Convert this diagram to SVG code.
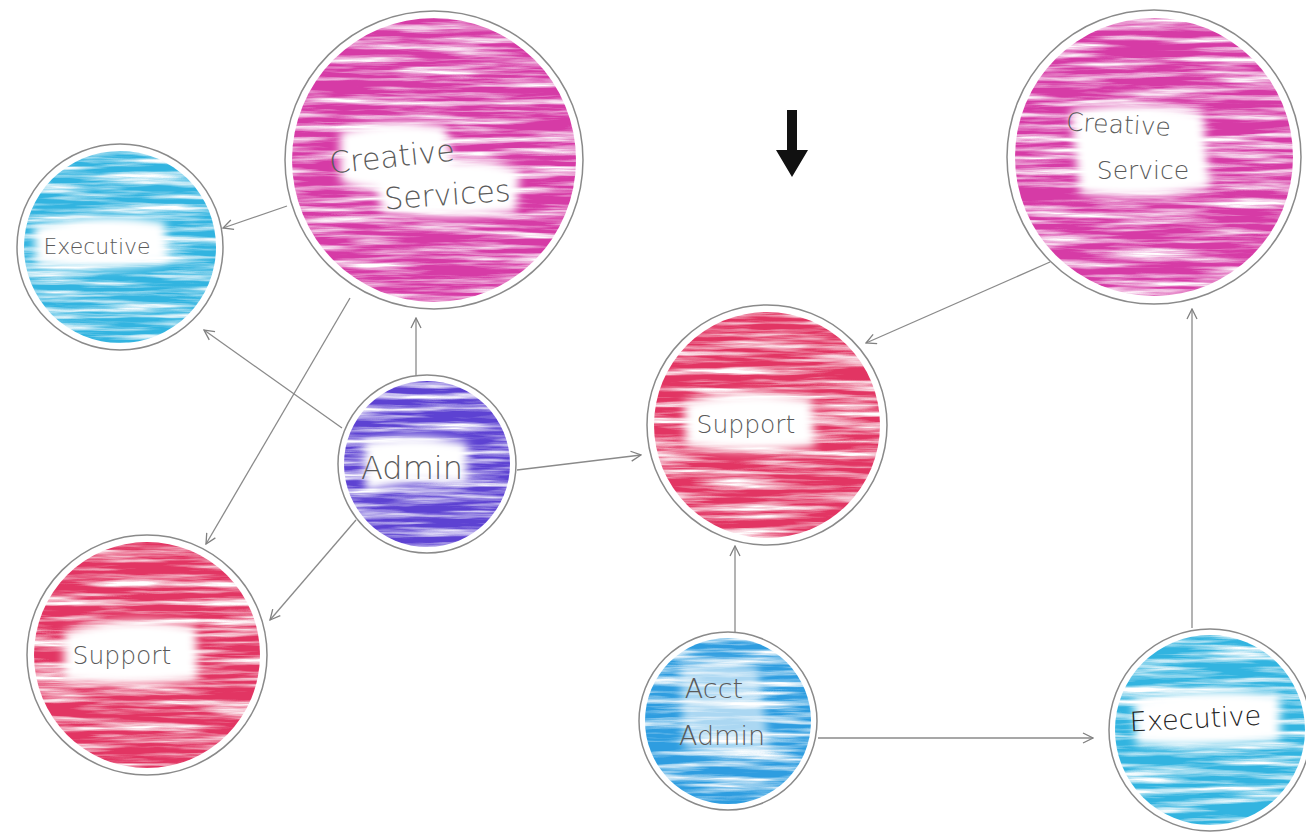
<svg xmlns="http://www.w3.org/2000/svg" width="1306" height="835" viewBox="0 0 1306 835">
<defs>
<filter id="crayon" x="-5%" y="-5%" width="110%" height="110%">
<feTurbulence type="fractalNoise" baseFrequency="0.01 0.16" numOctaves="4" seed="7" result="n"/>
<feColorMatrix in="n" type="matrix" values="0 0 0 0 0  0 0 0 0 0  0 0 0 0 0  2.6 0 0 0 -0.55" result="m"/>
<feComposite in="SourceGraphic" in2="m" operator="in"/>
</filter>
<filter id="soft" x="-10%" y="-20%" width="120%" height="140%"><feGaussianBlur stdDeviation="5"/></filter>
<marker id="arr" viewBox="0 0 12 12" refX="11" refY="6" markerWidth="12" markerHeight="12" markerUnits="userSpaceOnUse" orient="auto">
<path d="M1,1 L11,6 L1,11" fill="none" stroke="#808080" stroke-width="1.3"/>
</marker>
</defs>
<style>
.ring{fill:none;stroke:#8a8a8a;stroke-width:1.5}
.patch{fill:#ffffff;filter:url(#soft)}
.magenta{fill:#d63aa6}
.cyan{fill:#33b4e0}
.purple{fill:#5d42d2}
.red{fill:#e23563}
.blue{fill:#2e9de0}
.lbl{font-family:"DejaVu Sans","Liberation Sans",sans-serif;font-weight:300;fill:#5a5a5a;text-anchor:middle}
.conn line{stroke:#8a8a8a;stroke-width:1.3;marker-end:url(#arr)}
</style>
<rect width="1306" height="835" fill="#ffffff"/>

<g id="creative-services-left">
<circle class="magenta" cx="434" cy="160" r="142" filter="url(#crayon)"/>
<path class="patch" d="M340,132 Q390,116 445,126 L452,160 Q500,158 520,172 L516,212 Q450,222 382,212 L376,190 Q350,188 340,180 Z"/>
<circle class="ring" cx="434" cy="160" r="149"/>
<text class="lbl" x="393" y="167" font-size="30" transform="rotate(-6 393 167)">Creative</text>
<text class="lbl" x="448" y="205" font-size="30" transform="rotate(-4 448 205)">Services</text>
</g>

<g id="executive-left">
<circle class="cyan" cx="120" cy="247" r="96" filter="url(#crayon)"/>
<path class="patch" d="M34,226 Q100,210 165,222 L168,262 Q100,274 36,264 Z"/>
<circle class="ring" cx="120" cy="247" r="103"/>
<text class="lbl" x="97" y="254" font-size="22">Executive</text>
</g>

<g id="admin">
<circle class="purple" cx="427" cy="464" r="83" filter="url(#crayon)"/>
<path class="patch" d="M364,442 Q420,430 468,444 L466,484 Q415,478 366,492 Z"/>
<circle class="ring" cx="427" cy="464" r="89"/>
<text class="lbl" x="412" y="479" font-size="32">Admin</text>
</g>

<g id="support-left">
<circle class="red" cx="147" cy="655" r="113" filter="url(#crayon)"/>
<path class="patch" d="M64,632 Q130,612 196,627 L198,680 Q130,690 64,680 Z"/>
<circle class="ring" cx="147" cy="655" r="120"/>
<text class="lbl" x="122" y="664" font-size="25">Support</text>
</g>

<g id="support-middle">
<circle class="red" cx="767" cy="425" r="113" filter="url(#crayon)"/>
<path class="patch" d="M684,402 Q745,386 812,399 L815,446 Q750,456 686,446 Z"/>
<circle class="ring" cx="767" cy="425" r="120"/>
<text class="lbl" x="746" y="433" font-size="25">Support</text>
</g>

<g id="creative-service-right">
<circle class="magenta" cx="1154" cy="157" r="139" filter="url(#crayon)"/>
<path class="patch" d="M1070,110 Q1140,97 1203,113 L1210,188 Q1140,203 1080,193 Z"/>
<circle class="ring" cx="1154" cy="157" r="147"/>
<text class="lbl" x="1118" y="133" font-size="25" transform="rotate(3 1118 133)">Creative</text>
<text class="lbl" x="1143" y="179" font-size="25">Service</text>
</g>

<g id="acct-admin">
<circle class="blue" cx="728" cy="721" r="83" filter="url(#crayon)"/>
<path class="patch" d="M680,664 Q720,657 758,667 L770,750 Q720,758 684,748 Z" opacity="0.6"/>
<circle class="ring" cx="728" cy="721" r="89"/>
<text class="lbl" x="714" y="698" font-size="27">Acct</text>
<text class="lbl" x="722" y="745" font-size="27">Admin</text>
</g>

<g id="executive-right">
<circle class="cyan" cx="1210" cy="730" r="95" filter="url(#crayon)"/>
<path class="patch" d="M1134,700 Q1200,684 1280,694 L1280,740 Q1200,750 1136,744 Z"/>
<circle class="ring" cx="1210" cy="730" r="101"/>
<text class="lbl" x="1196" y="728" font-size="27" style="fill:#222" transform="rotate(-3 1196 728)">Executive</text>
</g>

<g id="marker-arrow">
<polygon points="787,110 797,110 797,150 808,150 792,177 776,150 787,150" fill="#111111"/>
</g>

<g id="connectors" class="conn">
<line x1="287" y1="206" x2="223" y2="228"/>
<line x1="342" y1="428" x2="204" y2="330"/>
<line x1="416" y1="376" x2="416" y2="318"/>
<line x1="350" y1="298" x2="206" y2="544"/>
<line x1="356" y1="520" x2="270" y2="620"/>
<line x1="517" y1="470" x2="641" y2="455"/>
<line x1="1050" y1="262" x2="866" y2="343"/>
<line x1="735" y1="632" x2="735" y2="546"/>
<line x1="818" y1="738" x2="1093" y2="738"/>
<line x1="1192" y1="628" x2="1192" y2="309"/>
</g>
</svg>
